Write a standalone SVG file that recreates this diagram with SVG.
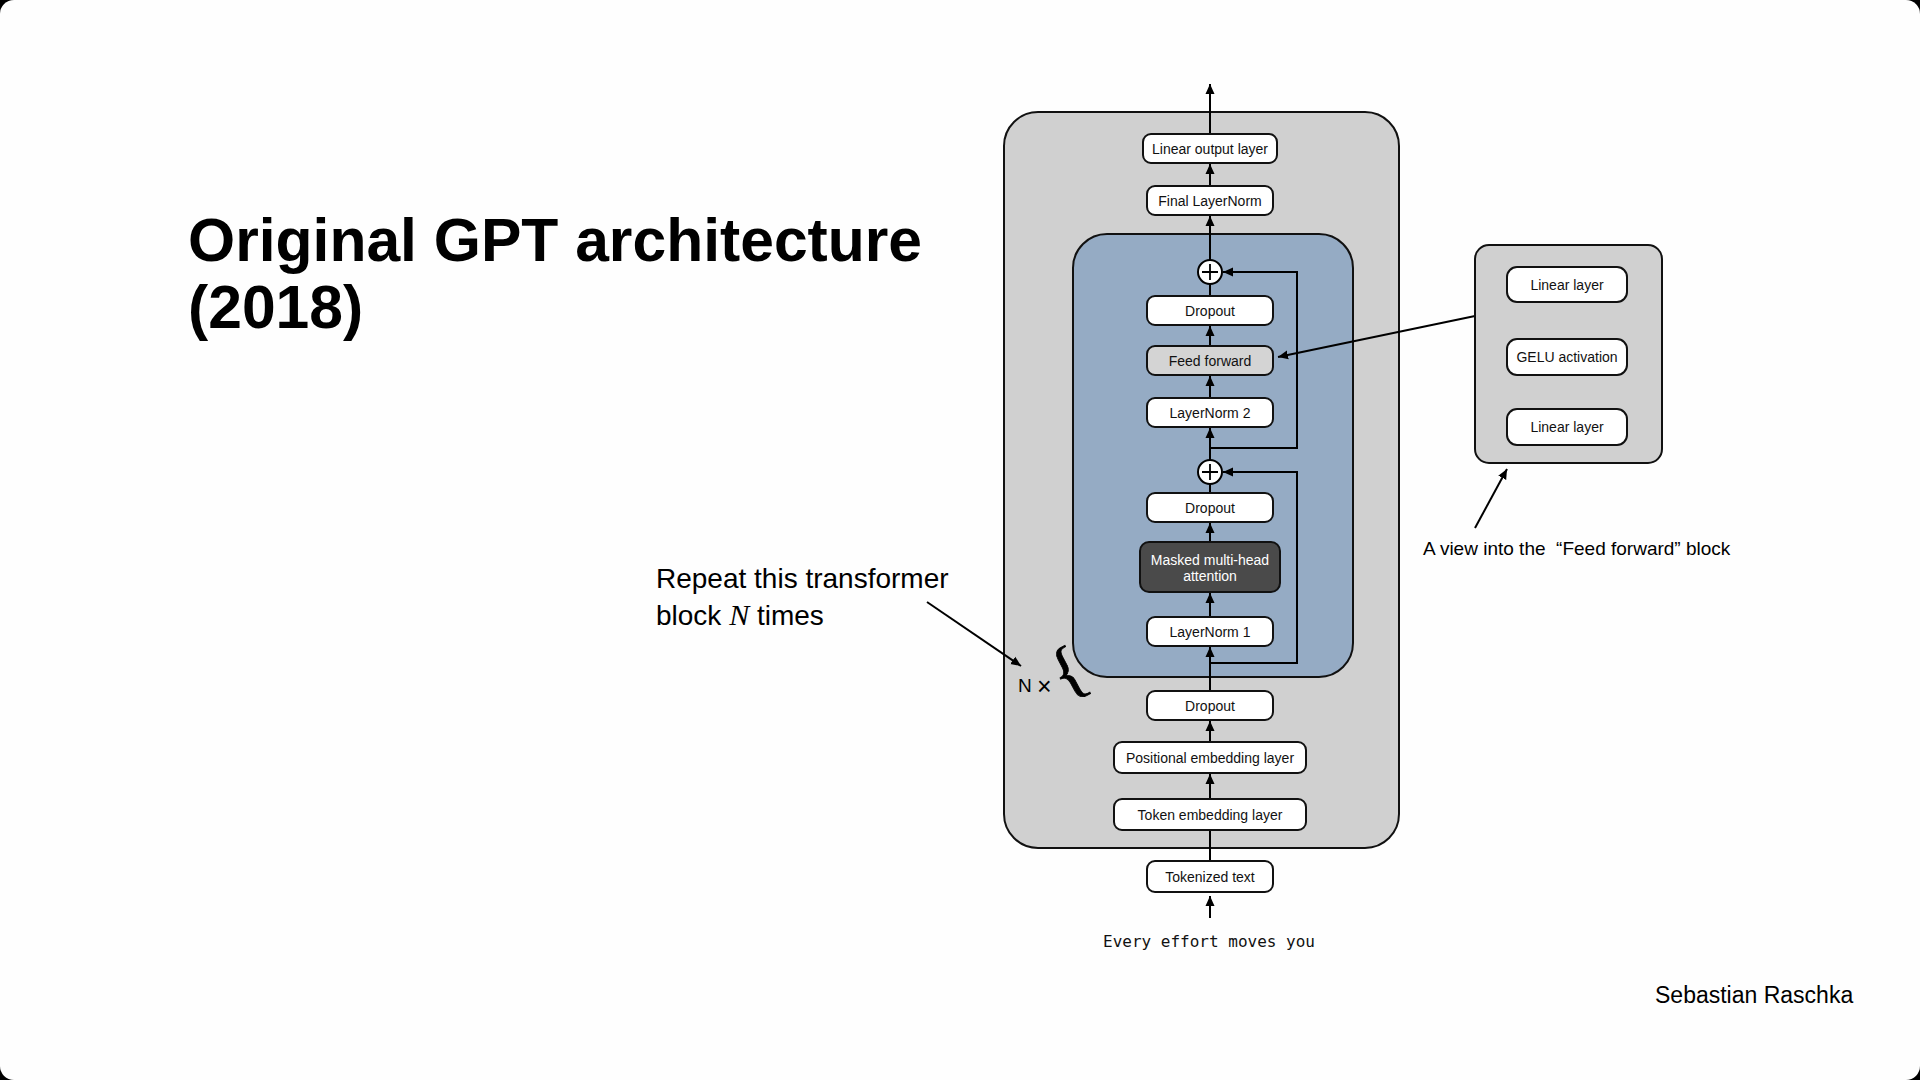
<svg xmlns="http://www.w3.org/2000/svg" width="1920" height="1080" viewBox="0 0 1920 1080">
<defs>
<marker id="ah" viewBox="0 0 10 10" refX="10" refY="5" markerWidth="10" markerHeight="10" markerUnits="userSpaceOnUse" orient="auto">
<path d="M0,0.5 L10,5 L0,9.5 Z" fill="#000"/>
</marker>
<style>
.node rect{fill:#fff;stroke:#111;stroke-width:2}
.lbl{font-family:"Liberation Sans",Arial,sans-serif;font-size:14px;fill:#111;text-anchor:middle}
.con{fill:none;stroke:#000;stroke-width:2}
.arr{marker-end:url(#ah)}
.plus circle{fill:#fff;stroke:#000;stroke-width:2}
.plus path{stroke:#000;stroke-width:1.8;fill:none}
.txt{font-family:"Liberation Sans",Arial,sans-serif;fill:#000}
</style>
</defs>
<rect x="0" y="0" width="1920" height="1080" fill="#000"/>
<rect x="0" y="0" width="1920" height="1080" rx="14" fill="#fefefe"/>

<g id="title">
<text class="txt" x="188" y="261" font-size="60.6" font-weight="bold">Original GPT architecture</text>
<text class="txt" x="188" y="328" font-size="60.6" font-weight="bold">(2018)</text>
</g>

<g id="gpt-model">
<rect x="1004" y="112" width="395" height="736" rx="34" fill="#d0d0d0" stroke="#111" stroke-width="2"/>
</g>
<g id="transformer-block">
<rect x="1073" y="234" width="280" height="443" rx="34" fill="#95abc4" stroke="#111" stroke-width="2"/>
</g>

<g id="connectors">
<path class="con arr" d="M1210,134 V84"/>
<path class="con arr" d="M1210,186 V164"/>
<path class="con arr" d="M1210,260 V216"/>
<path class="con" d="M1210,296 V284"/>
<path class="con arr" d="M1210,346 V326"/>
<path class="con arr" d="M1210,398 V376"/>
<path class="con arr" d="M1210,460 V428"/>
<path class="con" d="M1210,493 V484"/>
<path class="con arr" d="M1210,542 V523"/>
<path class="con arr" d="M1210,617 V593"/>
<path class="con arr" d="M1210,691 V647"/>
<path class="con arr" d="M1210,742 V721"/>
<path class="con arr" d="M1210,799 V774"/>
<path class="con" d="M1210,861 V830"/>
<path class="con arr" d="M1210,918 V896"/>
<path class="con arr" d="M1210,663 H1297 V472 H1223"/>
<path class="con arr" d="M1210,448 H1297 V272 H1223"/>
<path class="con arr" d="M1475,316 L1278,357"/>
<path class="con arr" d="M1475,528 L1507,469"/>
<path class="con arr" d="M927,602 L1021,666"/>
</g>

<g id="plus-1" class="plus">
<circle cx="1210" cy="272" r="12"/>
<path d="M1202,272 H1218 M1210,264 V280"/>
</g>
<g id="plus-2" class="plus">
<circle cx="1210" cy="472" r="12"/>
<path d="M1202,472 H1218 M1210,464 V480"/>
</g>

<g id="linear-output" class="node">
<rect x="1143" y="134" width="134" height="29" rx="8"/>
<text class="lbl" x="1210" y="153.5">Linear output layer</text>
</g>
<g id="final-layernorm" class="node">
<rect x="1147" y="186" width="126" height="29" rx="8"/>
<text class="lbl" x="1210" y="205.5">Final LayerNorm</text>
</g>
<g id="dropout-ff" class="node">
<rect x="1147" y="296" width="126" height="29" rx="8"/>
<text class="lbl" x="1210" y="315.5">Dropout</text>
</g>
<g id="feed-forward" class="node">
<rect x="1147" y="346" width="126" height="29" rx="8" style="fill:#d4d4d4"/>
<text class="lbl" x="1210" y="365.5">Feed forward</text>
</g>
<g id="layernorm-2" class="node">
<rect x="1147" y="398" width="126" height="29" rx="8"/>
<text class="lbl" x="1210" y="417.5">LayerNorm 2</text>
</g>
<g id="dropout-att" class="node">
<rect x="1147" y="493" width="126" height="29" rx="8"/>
<text class="lbl" x="1210" y="512.5">Dropout</text>
</g>
<g id="masked-mha" class="node">
<rect x="1140" y="542" width="140" height="50" rx="9" style="fill:#4a4a4a"/>
<text class="lbl" x="1210" y="565" style="fill:#fff">Masked multi-head</text>
<text class="lbl" x="1210" y="581" style="fill:#fff">attention</text>
</g>
<g id="layernorm-1" class="node">
<rect x="1147" y="617" width="126" height="29" rx="8"/>
<text class="lbl" x="1210" y="636.5">LayerNorm 1</text>
</g>
<g id="dropout-emb" class="node">
<rect x="1147" y="691" width="126" height="29" rx="8"/>
<text class="lbl" x="1210" y="710.5">Dropout</text>
</g>
<g id="positional-embedding" class="node">
<rect x="1114" y="742" width="192" height="31" rx="8"/>
<text class="lbl" x="1210" y="762.5">Positional embedding layer</text>
</g>
<g id="token-embedding" class="node">
<rect x="1114" y="799" width="192" height="31" rx="8"/>
<text class="lbl" x="1210" y="819.5">Token embedding layer</text>
</g>
<g id="tokenized-text" class="node">
<rect x="1147" y="861" width="126" height="31" rx="8"/>
<text class="lbl" x="1210" y="881.5">Tokenized text</text>
</g>
<g id="input-text">
<text x="1209" y="947" font-family="'DejaVu Sans Mono','Liberation Mono',monospace" font-size="16" text-anchor="middle" fill="#111">Every effort moves you</text>
</g>

<g id="ff-detail">
<rect x="1475" y="245" width="187" height="218" rx="14" fill="#d0d0d0" stroke="#111" stroke-width="2"/>
</g>
<g id="ff-linear-1" class="node">
<rect x="1507" y="267" width="120" height="35" rx="10"/>
<text class="lbl" x="1567" y="289.5">Linear layer</text>
</g>
<g id="ff-gelu" class="node">
<rect x="1507" y="339" width="120" height="36" rx="10"/>
<text class="lbl" x="1567" y="362">GELU activation</text>
</g>
<g id="ff-linear-2" class="node">
<rect x="1507" y="409" width="120" height="36" rx="10"/>
<text class="lbl" x="1567" y="432">Linear layer</text>
</g>

<g id="annotations">
<text class="txt" x="1423" y="555" font-size="19" xml:space="preserve">A view into the  “Feed forward” block</text>
<text class="txt" x="656" y="588" font-size="28">Repeat this transformer</text>
<text class="txt" x="656" y="625" font-size="28">block <tspan font-family="'Liberation Serif','Times New Roman',serif" font-style="italic" font-size="30">N</tspan> times</text>
<text class="txt" x="1018" y="692" font-size="19">N <tspan font-size="25" dy="3">×</tspan></text>
<text x="1067" y="693" font-family="'Liberation Serif','Times New Roman',serif" font-size="66" text-anchor="middle" fill="#000" stroke="#000" stroke-width="0.8" transform="rotate(-28 1067 670)">{</text>
<text class="txt" x="1655" y="1003" font-size="23">Sebastian Raschka</text>
</g>
</svg>
